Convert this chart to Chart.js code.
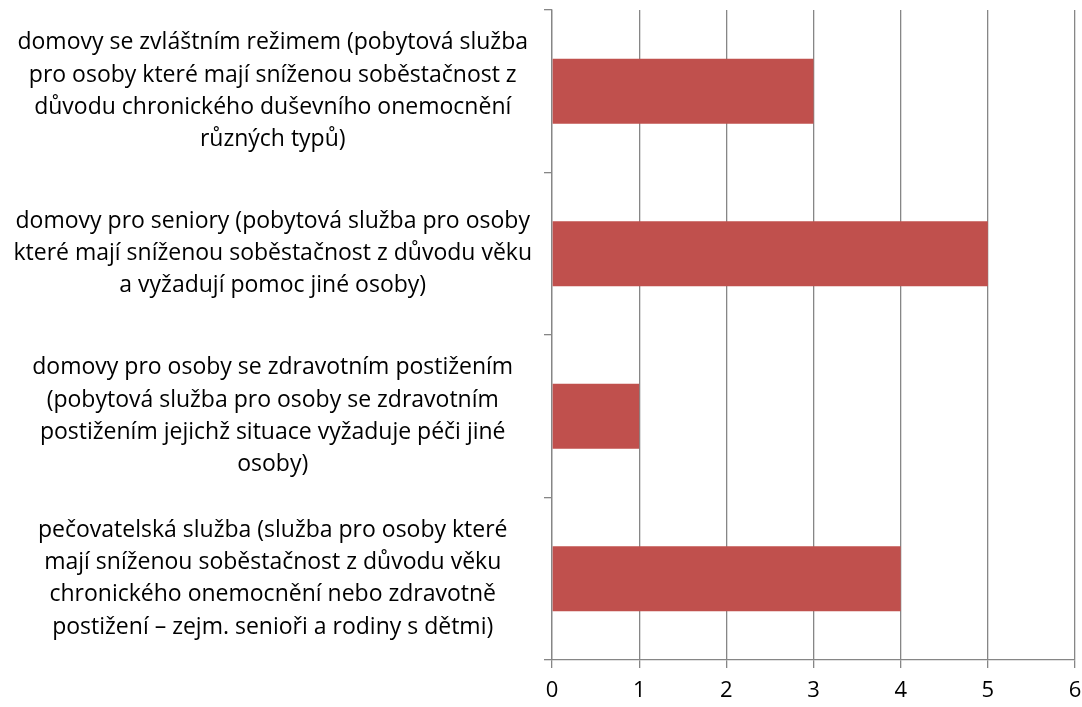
<!DOCTYPE html>
<html>
<head>
    <meta charset="UTF-8">
    <title>Sociální služby</title>
    <script src="https://cdn.jsdelivr.net/npm/chart.js"></script>
    <style>
        html, body { margin: 0; padding: 0; background: #fff; }
        .wrap { width: 1082px; height: 707px; }
    </style>
</head>
<body>
    <div class="wrap">
        <canvas id="chartSluzby"></canvas>
    </div>
    <script>
        // kategorie (radky popisku rozdelene jako v originale)
        const kategorie = [
            ['domovy se zvláštním režimem (pobytová služba', 'pro osoby které mají sníženou soběstačnost z', 'důvodu chronického duševního onemocnění', 'různých typů)'],
            ['domovy pro seniory (pobytová služba pro osoby', 'které mají sníženou soběstačnost z důvodu věku', 'a vyžadují pomoc jiné osoby)'],
            ['domovy pro osoby se zdravotním postižením', '(pobytová služba pro osoby se zdravotním', 'postižením jejichž situace vyžaduje péči jiné', 'osoby)'],
            ['pečovatelská služba (služba pro osoby které', 'mají sníženou soběstačnost z důvodu věku', 'chronického onemocnění nebo zdravotně', 'postižení – zejm. senioři a rodiny s dětmi)']
        ];
        const hodnoty = [3, 5, 1, 4];
        const osaX = [0, 1, 2, 3, 4, 5, 6];

        const pismo = { family: "'Open Sans', sans-serif", size: 23, lineHeight: 1.4 };

        var ctx = document.getElementById('chartSluzby').getContext('2d');
        new Chart(ctx, {
            type: 'bar',
            data: {
                labels: kategorie,
                datasets: [{
                    data: hodnoty,
                    backgroundColor: '#C0504D',
                    barPercentage: 0.4,
                    categoryPercentage: 1
                }]
            },
            options: {
                indexAxis: 'y',
                responsive: true,
                maintainAspectRatio: false,
                animation: false,
                layout: { padding: { top: 10, right: 7, left: 0, bottom: 0 } },
                plugins: { legend: { display: false }, tooltip: { enabled: false } },
                scales: {
                    x: {
                        min: osaX[0],
                        max: osaX[osaX.length - 1],
                        afterBuildTicks: (axis) => { axis.ticks = osaX.map(v => ({ value: v })); },
                        grid: { color: '#868686', lineWidth: 1.3, tickLength: 8 },
                        border: { color: '#868686', width: 1.3 },
                        ticks: { color: '#000', font: { family: pismo.family, size: 22 }, padding: 10 },
                        afterFit: (axis) => { axis.height = 47; axis.paddingLeft = 0; axis.paddingRight = 0; }
                    },
                    y: {
                        grid: { drawOnChartArea: false, color: '#868686', lineWidth: 1.3, tickLength: 8, offset: true },
                        border: { color: '#868686', width: 1.3 },
                        ticks: { color: '#000', font: pismo, crossAlign: 'center', padding: 12 },
                        afterFit: (axis) => { axis.width = 552; axis.paddingTop = 0; axis.paddingBottom = 0; }
                    }
                }
            }
        });
    </script>
</body>
</html>
